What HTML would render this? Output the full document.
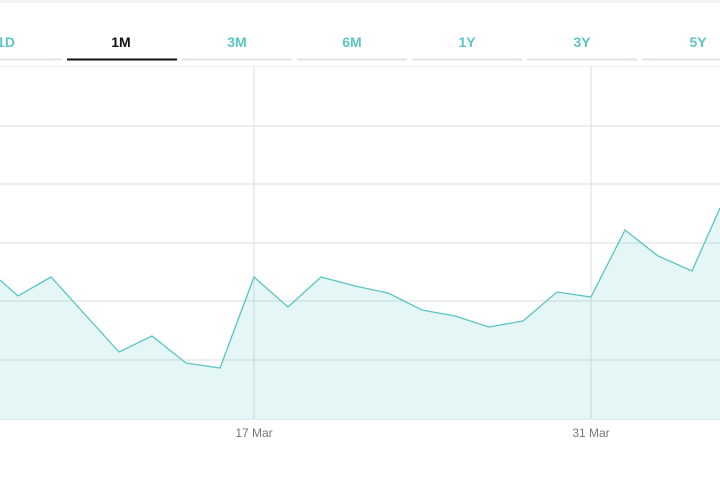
<!DOCTYPE html>
<html><head><style>
body{margin:0;width:720px;height:480px;background:#fff;overflow:hidden;font-family:"Liberation Sans",sans-serif}
</style></head><body>
<svg width="720" height="480" xmlns="http://www.w3.org/2000/svg">
<rect x="0" y="0" width="720" height="3" fill="#f2f3f4"/>
<g font-size="14" font-weight="bold" text-anchor="middle" fill="#5cc4c4">
<text x="6" y="47">1D</text>
<text x="121" y="47" fill="#111">1M</text>
<text x="237" y="47">3M</text>
<text x="352" y="47">6M</text>
<text x="467" y="47">1Y</text>
<text x="582" y="47">3Y</text>
<text x="698" y="47">5Y</text>
</g>
<g stroke="#e1e4e6" stroke-width="2">
<line x1="0" y1="59.5" x2="62" y2="59.5"/>
<line x1="182" y1="59.5" x2="292" y2="59.5"/>
<line x1="297" y1="59.5" x2="407" y2="59.5"/>
<line x1="412" y1="59.5" x2="522" y2="59.5"/>
<line x1="527" y1="59.5" x2="637" y2="59.5"/>
<line x1="642" y1="59.5" x2="720" y2="59.5"/>
</g>
<line x1="67" y1="59.5" x2="177" y2="59.5" stroke="#111" stroke-width="2"/>
<line x1="0" y1="66.5" x2="720" y2="66.5" stroke="#f0f1f2" stroke-width="1"/>
<g stroke="#dcdcdc" stroke-width="1">
<line x1="0" y1="126" x2="720" y2="126"/>
<line x1="0" y1="184" x2="720" y2="184"/>
<line x1="0" y1="243" x2="720" y2="243"/>
<line x1="0" y1="301" x2="720" y2="301"/>
<line x1="0" y1="360" x2="720" y2="360"/>
<line x1="254" y1="66" x2="254" y2="419"/>
<line x1="591" y1="66" x2="591" y2="419"/>
</g>
<polygon fill="#5cc8c8" fill-opacity="0.16" points="0,280 18,296 51,277 119,352 152,336 186,363 220,368 254,277 288,307 321,277 355,286 388,293 422,310 455,316 489,327 523,321 557,292 591,297 625,230 658,256 692,271 720,208 720,419 0,419"/>
<polyline fill="none" stroke="#5cc4c4" stroke-width="1.3" points="0,280 18,296 51,277 119,352 152,336 186,363 220,368 254,277 288,307 321,277 355,286 388,293 422,310 455,316 489,327 523,321 557,292 591,297 625,230 658,256 692,271 720,208"/>
<line x1="0" y1="419.5" x2="720" y2="419.5" stroke="#d8d8d8" stroke-dasharray="1,1"/>
<g font-size="12" fill="#777" text-anchor="middle">
<text x="254" y="437">17 Mar</text>
<text x="591" y="437">31 Mar</text>
</g>
</svg>
</body></html>
